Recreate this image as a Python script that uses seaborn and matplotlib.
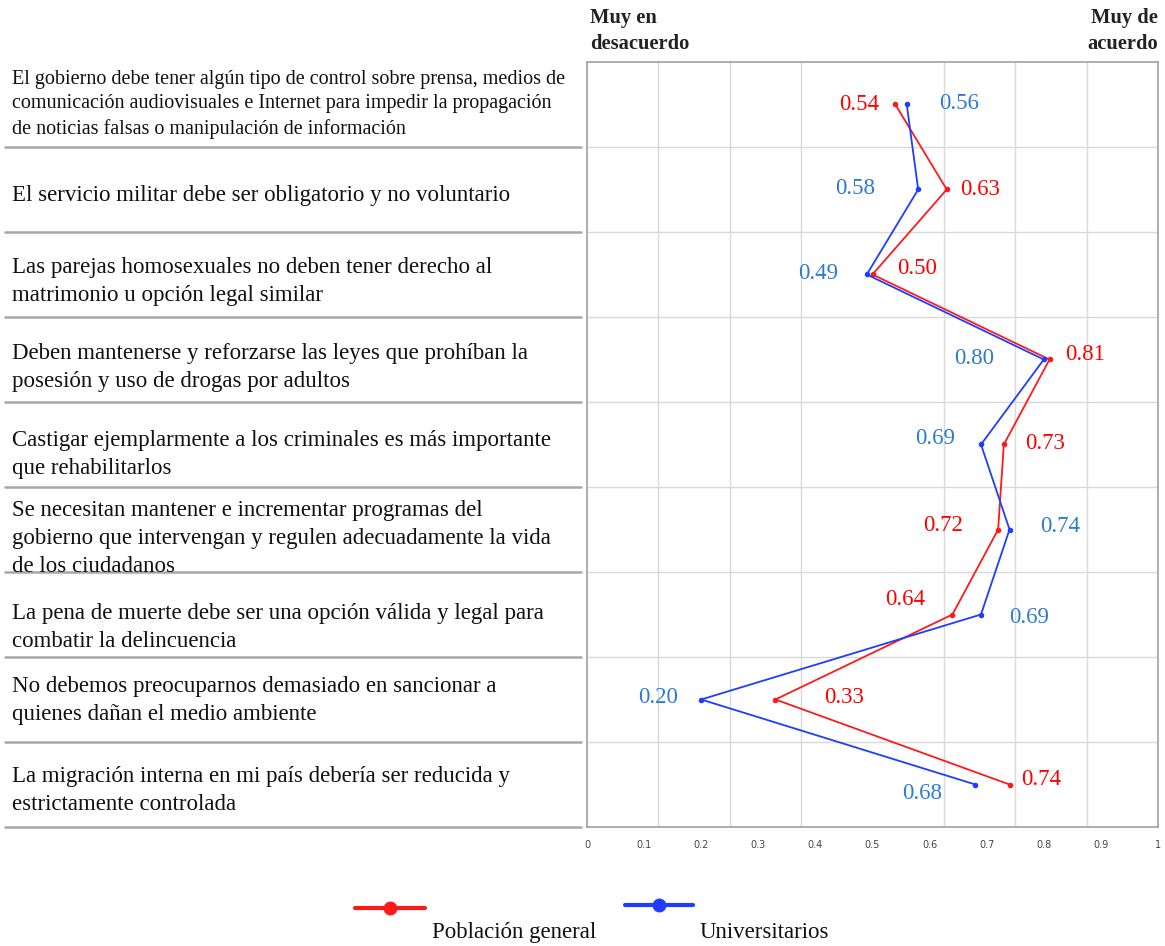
import numpy as np
import pandas as pd
import seaborn as sns
import matplotlib.pyplot as plt
from matplotlib import transforms
from matplotlib.lines import Line2D

# datos
STATEMENTS = [
    'El gobierno debe tener algún tipo de control sobre prensa, medios de\ncomunicación audiovisuales e Internet para impedir la propagación\nde noticias falsas o manipulación de información',
    'El servicio militar debe ser obligatorio y no voluntario',
    'Las parejas homosexuales no deben tener derecho al\nmatrimonio u opción legal similar',
    'Deben mantenerse y reforzarse las leyes que prohíban la\nposesión y uso de drogas por adultos',
    'Castigar ejemplarmente a los criminales es más importante\nque rehabilitarlos',
    'Se necesitan mantener e incrementar programas del\ngobierno que intervengan y regulen adecuadamente la vida\nde los ciudadanos',
    'La pena de muerte debe ser una opción válida y legal para\ncombatir la delincuencia',
    'No debemos preocuparnos demasiado en sancionar a\nquienes dañan el medio ambiente',
    'La migración interna en mi país debería ser reducida y\nestrictamente controlada',
]
GENERAL = [0.54, 0.63, 0.50, 0.81, 0.73, 0.72, 0.64, 0.33, 0.74]
UNIVERSITARIOS = [0.56, 0.58, 0.49, 0.80, 0.69, 0.74, 0.69, 0.20, 0.68]
SERIES = ['Población general', 'Universitarios']
TICKS = [0, 0.1, 0.2, 0.3, 0.4, 0.5, 0.6, 0.7, 0.8, 0.9, 1]
TICK_LABELS = ['0', '0.1', '0.2', '0.3', '0.4', '0.5', '0.6', '0.7', '0.8', '0.9', '1']

# desplazamiento de etiquetas (pixeles)
OFF_GENERAL = [(-36, 0), (33, 0), (45, 6), (36, 5), (41, 1), (-55, 4), (-47, 15), (69, 2), (32, 5)]
OFF_UNIV = [(52, 1), (-63, 1), (-49, 1), (-70, 1), (-46, 6), (51, 3), (48, -3), (-43, 2), (-53, -9)]
OFF_STMT = [0, -6, -7, -8, -10, -9, -13, -1, -6]

RED_LINE, RED_TXT = '#ff1a1a', '#ff0000'
BLUE_LINE, BLUE_TXT = '#1f3dff', '#2b7bd0'
SERIF = ['Liberation Serif', 'DejaVu Serif']

sns.set_style('white')
plt.rcParams['font.family'] = SERIF

pos = np.arange(len(STATEMENTS))
df = pd.DataFrame({
    'valor': GENERAL + UNIVERSITARIOS,
    'pos': np.concatenate([pos, pos]),
    'grupo': [SERIES[0]] * len(pos) + [SERIES[1]] * len(pos),
})

fig = plt.figure(figsize=(11.65, 9.46), dpi=100)
ax = fig.add_axes([587 / 1165, 1 - 827 / 946, 571 / 1165, 765 / 946])

sns.lineplot(data=df, x='valor', y='pos', hue='grupo', sort=False, estimator=None,
             palette={SERIES[0]: RED_LINE, SERIES[1]: BLUE_LINE},
             marker='o', markersize=4, markeredgewidth=0, linewidth=1.3,
             legend=False, ax=ax)

ax.set_xlim(0, 1)
ax.set_ylim(len(pos) - 0.5, -0.5)
ax.set_xticks(TICKS)
ax.set_xticklabels(TICK_LABELS, family='DejaVu Sans', fontsize=7, color='#444444')
ax.set_xticks(np.arange(0.125, 1, 0.125), minor=True)
ax.set_yticks([])
ax.set_yticks(np.arange(0.5, len(pos) - 0.5, 1), minor=True)
ax.tick_params(axis='x', which='major', direction='out', length=4, color='#aaaaaa', pad=5)
ax.tick_params(axis='both', which='minor', length=0)
ax.grid(True, which='minor', color='#d9d9d9', linewidth=1)
ax.set_xlabel('')
ax.set_ylabel('')
for s in ax.spines.values():
    s.set_color('#a0a0a0')
    s.set_linewidth(1.2)

# etiquetas de valores
for vals, offs, col in [(GENERAL, OFF_GENERAL, RED_TXT), (UNIVERSITARIOS, OFF_UNIV, BLUE_TXT)]:
    for i, (v, (dx, dy)) in enumerate(zip(vals, offs)):
        ax.annotate(f'{v:.2f}', (v, i), xytext=(dx, dy), textcoords='offset pixels',
                    ha='center', va='center', fontsize=16.5, color=col)

# enunciados y separadores a la izquierda
trans = transforms.blended_transform_factory(ax.transAxes, ax.transData)
for i, txt in enumerate(STATEMENTS):
    size = 14.5 if i == 0 else 16.5
    ax.annotate(txt, (12 / 571 - 587 / 571, i), xycoords=trans,
                xytext=(0, OFF_STMT[i]), textcoords='offset pixels',
                ha='left', va='center', fontsize=size,
                linespacing=1.36 if i == 0 else 1.42, color='#111111')
    ax.plot([5 / 571 - 587 / 571, -0.01], [i + 0.5, i + 0.5], transform=trans,
            color='#a6a6a6', linewidth=1.8, clip_on=False)

# encabezados
fig.text(590 / 1165, 1 - 8 / 946, 'Muy en\ndesacuerdo', ha='left', va='top',
         fontsize=14.8, fontweight='bold', linespacing=1.37, color='#222222')
fig.text(1158 / 1165, 1 - 8 / 946, 'Muy de\nacuerdo', ha='right', va='top',
         fontsize=14.8, fontweight='bold', linespacing=1.37, color='#222222')

# leyenda manual
for (x0, x1, y), col in [((355, 425, 908), RED_LINE), ((625, 693, 905), BLUE_LINE)]:
    fig.add_artist(Line2D([x0 / 1165, x1 / 1165], [1 - y / 946] * 2, color=col, linewidth=3,
                          transform=fig.transFigure))
    fig.add_artist(Line2D([(x0 + x1) / 2 / 1165], [1 - y / 946], color=col, marker='o',
                          markersize=9, transform=fig.transFigure))
fig.text(432 / 1165, 1 - 932 / 946, SERIES[0], ha='left', va='center', fontsize=16.5, color='#111111')
fig.text(700 / 1165, 1 - 932 / 946, SERIES[1], ha='left', va='center', fontsize=16.5, color='#111111')

fig.savefig('out.png', dpi=100)
